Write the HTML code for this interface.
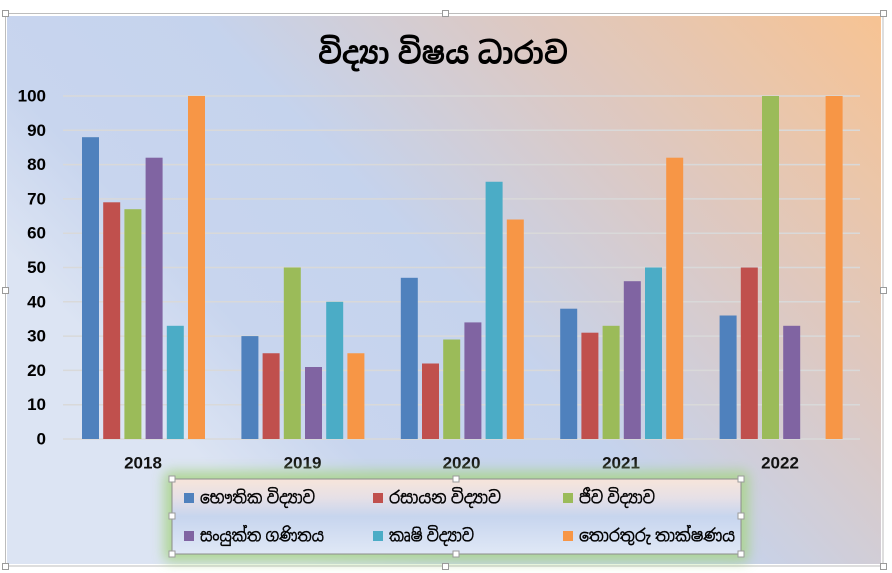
<!DOCTYPE html>
<html>
<head>
<meta charset="utf-8">
<style>
html,body{margin:0;padding:0;background:#fff;}
svg{display:block;}
.yl{font-family:"Liberation Sans",sans-serif;font-weight:bold;font-size:17px;fill:#000;}
.xl{font-family:"Liberation Sans",sans-serif;font-weight:bold;font-size:17px;fill:#111;}
.si{font-family:"Liberation Sans","Noto Sans Sinhala","Iskoola Pota","DejaVu Sans",sans-serif;fill:#000;}
.lt{stroke:#000;stroke-width:0.35;}
</style>
</head>
<body>
<svg width="892" height="573" viewBox="0 0 892 573" xmlns="http://www.w3.org/2000/svg">
<defs>
<linearGradient id="bg" gradientUnits="userSpaceOnUse" x1="881" y1="16" x2="300" y2="564">
<stop offset="0" stop-color="#f7c393"/>
<stop offset="0.35" stop-color="#dcc9c4"/>
<stop offset="0.62" stop-color="#c5d3ed"/>
<stop offset="0.85" stop-color="#c8d5ee"/>
<stop offset="1" stop-color="#dce4f3"/>
</linearGradient>
<linearGradient id="lg" x1="0" y1="0" x2="0" y2="1">
<stop offset="0" stop-color="#f7e5da"/>
<stop offset="0.25" stop-color="#e6e0e6"/>
<stop offset="0.5" stop-color="#c7d5ee"/>
<stop offset="1" stop-color="#e0e8f6"/>
</linearGradient>
<filter id="glow" x="-20%" y="-60%" width="140%" height="220%">
<feGaussianBlur stdDeviation="6"/>
</filter>
</defs>

<!-- outer frame -->
<rect x="5.5" y="13.5" width="877.5" height="552.5" fill="#fff" stroke="#bdbdbd" stroke-width="1"/>
<rect x="7" y="16" width="874" height="548" fill="url(#bg)"/>

<!-- title -->
<text class="si" x="443" y="54" font-size="30" font-weight="bold" text-anchor="middle" dominant-baseline="central" textLength="250" lengthAdjust="spacingAndGlyphs">විද්‍යා විෂය ධාරාව</text>

<!-- gridlines -->
<g stroke="#d9d9d9" stroke-width="1.5">
<line x1="63" x2="860" y1="439" y2="439"/>
<line x1="63" x2="860" y1="404.7" y2="404.7"/>
<line x1="63" x2="860" y1="370.4" y2="370.4"/>
<line x1="63" x2="860" y1="336.1" y2="336.1"/>
<line x1="63" x2="860" y1="301.8" y2="301.8"/>
<line x1="63" x2="860" y1="267.5" y2="267.5"/>
<line x1="63" x2="860" y1="233.2" y2="233.2"/>
<line x1="63" x2="860" y1="198.9" y2="198.9"/>
<line x1="63" x2="860" y1="164.6" y2="164.6"/>
<line x1="63" x2="860" y1="130.3" y2="130.3"/>
<line x1="63" x2="860" y1="96" y2="96"/>
</g>

<!-- y labels -->
<g class="yl" text-anchor="end" dominant-baseline="central">
<text x="46" y="439">0</text>
<text x="46" y="404.7">10</text>
<text x="46" y="370.4">20</text>
<text x="46" y="336.1">30</text>
<text x="46" y="301.8">40</text>
<text x="46" y="267.5">50</text>
<text x="46" y="233.2">60</text>
<text x="46" y="198.9">70</text>
<text x="46" y="164.6">80</text>
<text x="46" y="130.3">90</text>
<text x="46" y="96">100</text>
</g>

<!-- 2018 -->
<rect x="82" y="137.2" width="17" height="301.8" fill="#4f81bd"/>
<rect x="103.2" y="202.3" width="17" height="236.7" fill="#c0504d"/>
<rect x="124.4" y="209.2" width="17" height="229.8" fill="#9bbb59"/>
<rect x="145.6" y="157.7" width="17" height="281.3" fill="#8064a2"/>
<rect x="166.8" y="325.8" width="17" height="113.2" fill="#4bacc6"/>
<rect x="188" y="96" width="17" height="343" fill="#f79646"/>
<!-- 2019 -->
<rect x="241.4" y="336.1" width="17" height="102.9" fill="#4f81bd"/>
<rect x="262.6" y="353.25" width="17" height="85.75" fill="#c0504d"/>
<rect x="283.8" y="267.5" width="17" height="171.5" fill="#9bbb59"/>
<rect x="305" y="367" width="17" height="72" fill="#8064a2"/>
<rect x="326.2" y="301.8" width="17" height="137.2" fill="#4bacc6"/>
<rect x="347.4" y="353.25" width="17" height="85.75" fill="#f79646"/>
<!-- 2020 -->
<rect x="400.8" y="277.8" width="17" height="161.2" fill="#4f81bd"/>
<rect x="422" y="363.5" width="17" height="75.5" fill="#c0504d"/>
<rect x="443.2" y="339.5" width="17" height="99.5" fill="#9bbb59"/>
<rect x="464.4" y="322.4" width="17" height="116.6" fill="#8064a2"/>
<rect x="485.6" y="181.75" width="17" height="257.25" fill="#4bacc6"/>
<rect x="506.8" y="219.5" width="17" height="219.5" fill="#f79646"/>
<!-- 2021 -->
<rect x="560.2" y="308.7" width="17" height="130.3" fill="#4f81bd"/>
<rect x="581.4" y="332.7" width="17" height="106.3" fill="#c0504d"/>
<rect x="602.6" y="325.8" width="17" height="113.2" fill="#9bbb59"/>
<rect x="623.8" y="281.2" width="17" height="157.8" fill="#8064a2"/>
<rect x="645" y="267.5" width="17" height="171.5" fill="#4bacc6"/>
<rect x="666.2" y="157.7" width="17" height="281.3" fill="#f79646"/>
<!-- 2022 -->
<rect x="719.6" y="315.5" width="17" height="123.5" fill="#4f81bd"/>
<rect x="740.8" y="267.5" width="17" height="171.5" fill="#c0504d"/>
<rect x="762" y="96" width="17" height="343" fill="#9bbb59"/>
<rect x="783.2" y="325.8" width="17" height="113.2" fill="#8064a2"/>
<rect x="825.6" y="96" width="17" height="343" fill="#f79646"/>

<!-- x labels -->
<g class="xl" text-anchor="middle" dominant-baseline="central">
<text x="143" y="463">2018</text>
<text x="302.5" y="463">2019</text>
<text x="461.5" y="463">2020</text>
<text x="621" y="463">2021</text>
<text x="780" y="463">2022</text>
</g>

<!-- legend glow -->
<rect x="164" y="471" width="585" height="91" rx="6" fill="#a9d488" opacity="0.85" filter="url(#glow)"/>
<!-- legend box -->
<rect x="172" y="479" width="569" height="75" fill="url(#lg)" stroke="#8c8c8c" stroke-width="1"/>

<!-- legend entries -->
<rect x="184" y="493" width="10" height="10" fill="#4f81bd"/>
<text class="si lt" x="200" y="498" font-size="17" dominant-baseline="central" textLength="115" lengthAdjust="spacingAndGlyphs">භෞතික විද්‍යාව</text>
<rect x="373" y="493" width="10" height="10" fill="#c0504d"/>
<text class="si lt" x="389" y="498" font-size="17" dominant-baseline="central" textLength="112" lengthAdjust="spacingAndGlyphs">රසායන විද්‍යාව</text>
<rect x="563" y="493" width="10" height="10" fill="#9bbb59"/>
<text class="si lt" x="579" y="498" font-size="17" dominant-baseline="central" textLength="76" lengthAdjust="spacingAndGlyphs">ජීව විද්‍යාව</text>

<rect x="184" y="531" width="10" height="10" fill="#8064a2"/>
<text class="si lt" x="200" y="536" font-size="17" dominant-baseline="central" textLength="124" lengthAdjust="spacingAndGlyphs">සංයුක්ත ගණිතය</text>
<rect x="373" y="531" width="10" height="10" fill="#4bacc6"/>
<text class="si lt" x="389" y="536" font-size="17" dominant-baseline="central" textLength="85" lengthAdjust="spacingAndGlyphs">කෘෂි විද්‍යාව</text>
<rect x="563" y="531" width="10" height="10" fill="#f79646"/>
<text class="si lt" x="579" y="536" font-size="17" dominant-baseline="central" textLength="156" lengthAdjust="spacingAndGlyphs">තොරතුරු තාක්ෂණය</text>

<!-- selection handles -->
<g fill="#fff" stroke="#9a9a9a" stroke-width="1">
<rect x="2.5" y="10.5" width="6" height="6"/>
<rect x="442.5" y="10.5" width="6" height="6"/>
<rect x="880.5" y="10.5" width="6" height="6"/>
<rect x="2.5" y="287.5" width="6" height="6"/>
<rect x="880.5" y="287.5" width="6" height="6"/>
<rect x="2.5" y="563.5" width="6" height="6"/>
<rect x="442.5" y="563.5" width="6" height="6"/>
<rect x="880.5" y="563.5" width="6" height="6"/>

<rect x="169" y="476" width="6" height="6"/>
<rect x="453" y="476" width="6" height="6"/>
<rect x="738" y="476" width="6" height="6"/>
<rect x="169" y="513" width="6" height="6"/>
<rect x="738" y="513" width="6" height="6"/>
<rect x="169" y="551" width="6" height="6"/>
<rect x="453" y="551" width="6" height="6"/>
<rect x="738" y="551" width="6" height="6"/>
</g>
</svg>
</body>
</html>
